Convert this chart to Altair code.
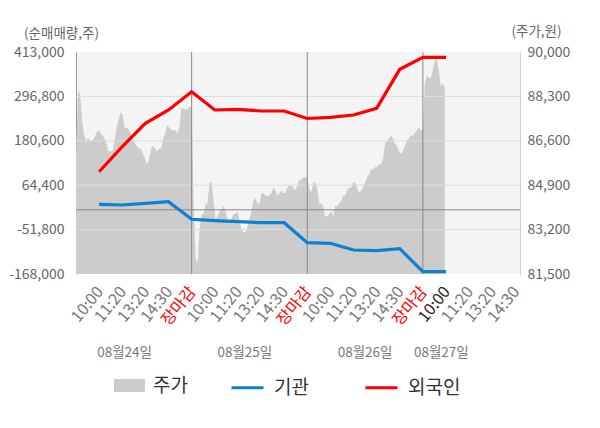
import altair as alt
import pandas as pd

# ---------------- data ----------------
slot_labels = ["10:00", "11:20", "13:20", "14:30", "장마감"]
date_labels = ["08월24일", "08월25일", "08월26일", "08월27일"]
date_label_pos = [2.1, 7.3, 12.5, 15.8]
current_slot = 16  # highlighted (latest) tick

series_names = ["기관", "외국인"]
foreign = [99700, 165200, 226400, 261200, 309100, 261200, 263000, 258600, 258600,
           239000, 242100, 248100, 265700, 367700, 399100, 399100]
institution = [14400, 12600, 17000, 21300, -24800, -28500, -31100, -33700, -33700,
               -86000, -87600, -105200, -107000, -101800, -162000, -162000]

price_day1 = [86100, 88500, 88400, 87400, 86800, 86600, 86700, 86600, 86600, 86700,
              86900, 87000, 86900, 86800, 86700, 86500, 86200, 86200, 86200, 86600,
              87100, 87400, 87700, 87600, 87100, 87100, 87000, 86900, 86700, 86500,
              86400, 86300, 86300, 86100, 85900, 85700, 85900, 86300, 86400, 86300,
              86200, 86300, 86300, 86700, 86900, 87200, 87100, 87000, 87000, 87000,
              86900, 87100, 87900, 87800, 87800, 87800, 87900, 87900]
price_day2 = [84200, 82100, 81900, 83200, 83800, 83800, 84200, 84200, 85000, 85000,
              84300, 83600, 83700, 83900, 84000, 84100, 83900, 83600, 83500, 83600,
              83800, 83800, 83900, 83600, 83200, 83100, 83100, 83300, 83600, 83900,
              84300, 84400, 84200, 84200, 84600, 84600, 84500, 84500, 84500, 84600,
              84800, 84700, 84500, 84600, 84700, 84600, 84600, 84800, 84900, 84900,
              84800, 84700, 84900, 85100, 85100, 85200, 85200, 85200]
price_day3 = [84800, 84600, 85000, 85000, 84800, 84200, 84200, 84100, 83700, 83700,
              83800, 83900, 83700, 84100, 84100, 84200, 84300, 84500, 84500, 84700,
              84800, 84800, 85000, 85000, 84800, 84600, 84700, 84800, 85000, 85200,
              85300, 85500, 85500, 85600, 85600, 85700, 85700, 85900, 86500, 86600,
              86700, 86800, 86700, 86500, 86400, 86200, 86100, 86200, 86400, 86600,
              86700, 86800, 86800, 86900, 87000, 87100, 87000, 87000]
price_day4 = [88800, 89100, 89000, 89000, 89300, 89700, 89700, 89300, 88700, 88800, 88600]

left_ticks = [-168000, -51800, 64400, 180600, 296800, 413000]
right_ticks = [81500, 83200, 84900, 86600, 88300, 90000]

# ---------------- tables ----------------
SLOTS = 5
SAMPLES = 58
N_DAYS_FULL = 3
rows = []
for i, v in enumerate(price_day1):
    rows.append({"x": SLOTS * i / (len(price_day1) - 1), "price": v, "s": "주가"})
for d, arr in [(1, price_day2), (2, price_day3), (3, price_day4)]:
    for i, v in enumerate(arr):
        rows.append({"x": SLOTS * d + SLOTS * (i + 1) / SAMPLES, "price": v, "s": "주가"})
price_df = pd.DataFrame(rows)

line_rows = []
for name, arr in zip(series_names, [institution, foreign]):
    for i, v in enumerate(arr):
        line_rows.append({"x": i + 1, "value": v, "series": name})
line_df = pd.DataFrame(line_rows)

# x tick labels (3 full days + 4 slots of the last day)
tick_rows = []
for d in range(N_DAYS_FULL + 1):
    for k, lab in enumerate(slot_labels):
        pos = d * SLOTS + k + 1
        if d == N_DAYS_FULL and k == len(slot_labels) - 1:
            continue
        if k == len(slot_labels) - 1:
            col = "#ff0000"
        elif pos == current_slot:
            col = "#222222"
        else:
            col = "#777777"
        tick_rows.append({"x": pos, "t": lab, "c": col})
tick_df = pd.DataFrame(tick_rows)

grid_df = pd.DataFrame({"v": left_ticks[1:-1]})
zero_df = pd.DataFrame({"v": [0]})
day_df = pd.DataFrame({"x": [SLOTS * (d + 1) for d in range(N_DAYS_FULL)]})
date_df = pd.DataFrame({"x": date_label_pos, "t": date_labels})

X_MAX = 19.2
x_scale = alt.Scale(domain=[0, X_MAX], nice=False, zero=False)
yl_scale = alt.Scale(domain=[left_ticks[0], left_ticks[-1]], nice=False, zero=False)
yr_scale = alt.Scale(domain=[right_ticks[0], right_ticks[-1]], nice=False, zero=False)

FONT = "Noto Sans CJK KR"

x_axis = alt.Axis(
    values=[0, 5, 10, 15, X_MAX], labels=False, tickSize=4, tickColor="#999999",
    domainColor="#999999", grid=False, title="",
)

area = alt.Chart(price_df).mark_area(opacity=1, clip=True).encode(
    x=alt.X("x:Q", scale=x_scale, axis=x_axis),
    y=alt.Y("price:Q", scale=yr_scale, axis=alt.Axis(
        orient="right", values=right_ticks, format=",.0f", ticks=False, grid=False,
        domainColor="#cccccc", labelPadding=7, labelFontSize=14, labelColor="#666666",
        labelFont=FONT, title="(주가,원)", titleAngle=0, titleX=16, titleY=-21,
        titleAlign="center", titleBaseline="middle", titleFontSize=13.5,
        titleFontWeight="normal", titleColor="#666666", titleFont=FONT)),
    fill=alt.Fill("s:N", scale=alt.Scale(domain=["주가"], range=["#cccccc"]),
                  legend=alt.Legend(orient="none", legendX=38, legendY=318, title=None,
                                    symbolType="M-1,-0.42H1V0.42H-1Z", symbolSize=961,
                                    symbolStrokeWidth=0, symbolOpacity=1,
                                    labelFontSize=19, labelOffset=8, labelColor="#333333",
                                    labelFont=FONT)),
)

grid = alt.Chart(grid_df).mark_rule(color="#dddddd", strokeWidth=1).encode(
    y=alt.Y("v:Q", scale=yl_scale, axis=None))
zero = alt.Chart(zero_df).mark_rule(color="#888888", strokeWidth=1).encode(
    y=alt.Y("v:Q", scale=yl_scale, axis=None))
days = alt.Chart(day_df).mark_rule(color="#888888", strokeWidth=1).encode(
    x=alt.X("x:Q", scale=x_scale, axis=None))

lines = alt.Chart(line_df).mark_line(strokeWidth=3.2).encode(
    x=alt.X("x:Q", scale=x_scale, axis=None),
    y=alt.Y("value:Q", scale=yl_scale, axis=alt.Axis(
        orient="left", values=left_ticks, format=",.0f", ticks=False, grid=False,
        domainColor="#999999", labelPadding=12, labelFontSize=14, labelColor="#666666",
        labelFont=FONT, title="(순매매량,주)", titleAngle=0, titleX=-15, titleY=-19,
        titleAlign="center", titleBaseline="middle", titleFontSize=13.5,
        titleFontWeight="normal", titleColor="#666666", titleFont=FONT)),
    stroke=alt.Stroke("series:N", scale=alt.Scale(domain=series_names, range=["#0d80cf", "#ff0000"]),
                      legend=alt.Legend(orient="none", legendX=154, legendY=318, title=None,
                                        direction="horizontal", symbolType="stroke",
                                        symbolSize=1024, symbolStrokeWidth=3,
                                        labelFontSize=19, labelOffset=9, columnPadding=50,
                                        labelColor="#333333", labelFont=FONT)),
    detail="series:N",
)

tick_labels = alt.Chart(tick_df).mark_text(
    fontSize=16, font=FONT, angle=309, align="right", baseline="middle", xOffset=1,
).encode(
    x=alt.X("x:Q", scale=x_scale, axis=None),
    y=alt.value(237),
    text="t:N",
    color=alt.Color("c:N", scale=None),
)

dates = alt.Chart(date_df).mark_text(fontSize=13.5, color="#777777", font=FONT,
                                     align="center", baseline="middle").encode(
    x=alt.X("x:Q", scale=x_scale, axis=None),
    y=alt.value(301),
    text="t:N",
)

chart = alt.layer(area, grid, zero, days, lines, tick_labels, dates).resolve_scale(
    y="independent"
).properties(
    width=444, height=222,
    padding={"left": 68, "top": 44, "right": 64, "bottom": 140},
    autosize=alt.AutoSizeParams(type="none"),
).configure(
    font=FONT,
    locale=alt.Locale(number=alt.NumberLocale(decimal=".", thousands=",", grouping=[3],
                                              currency=["", ""], minus="-")),
).configure_view(fill="#f4f4f4", strokeWidth=0)

chart.save("out.html", embed_options={"renderer": "svg", "actions": False})
